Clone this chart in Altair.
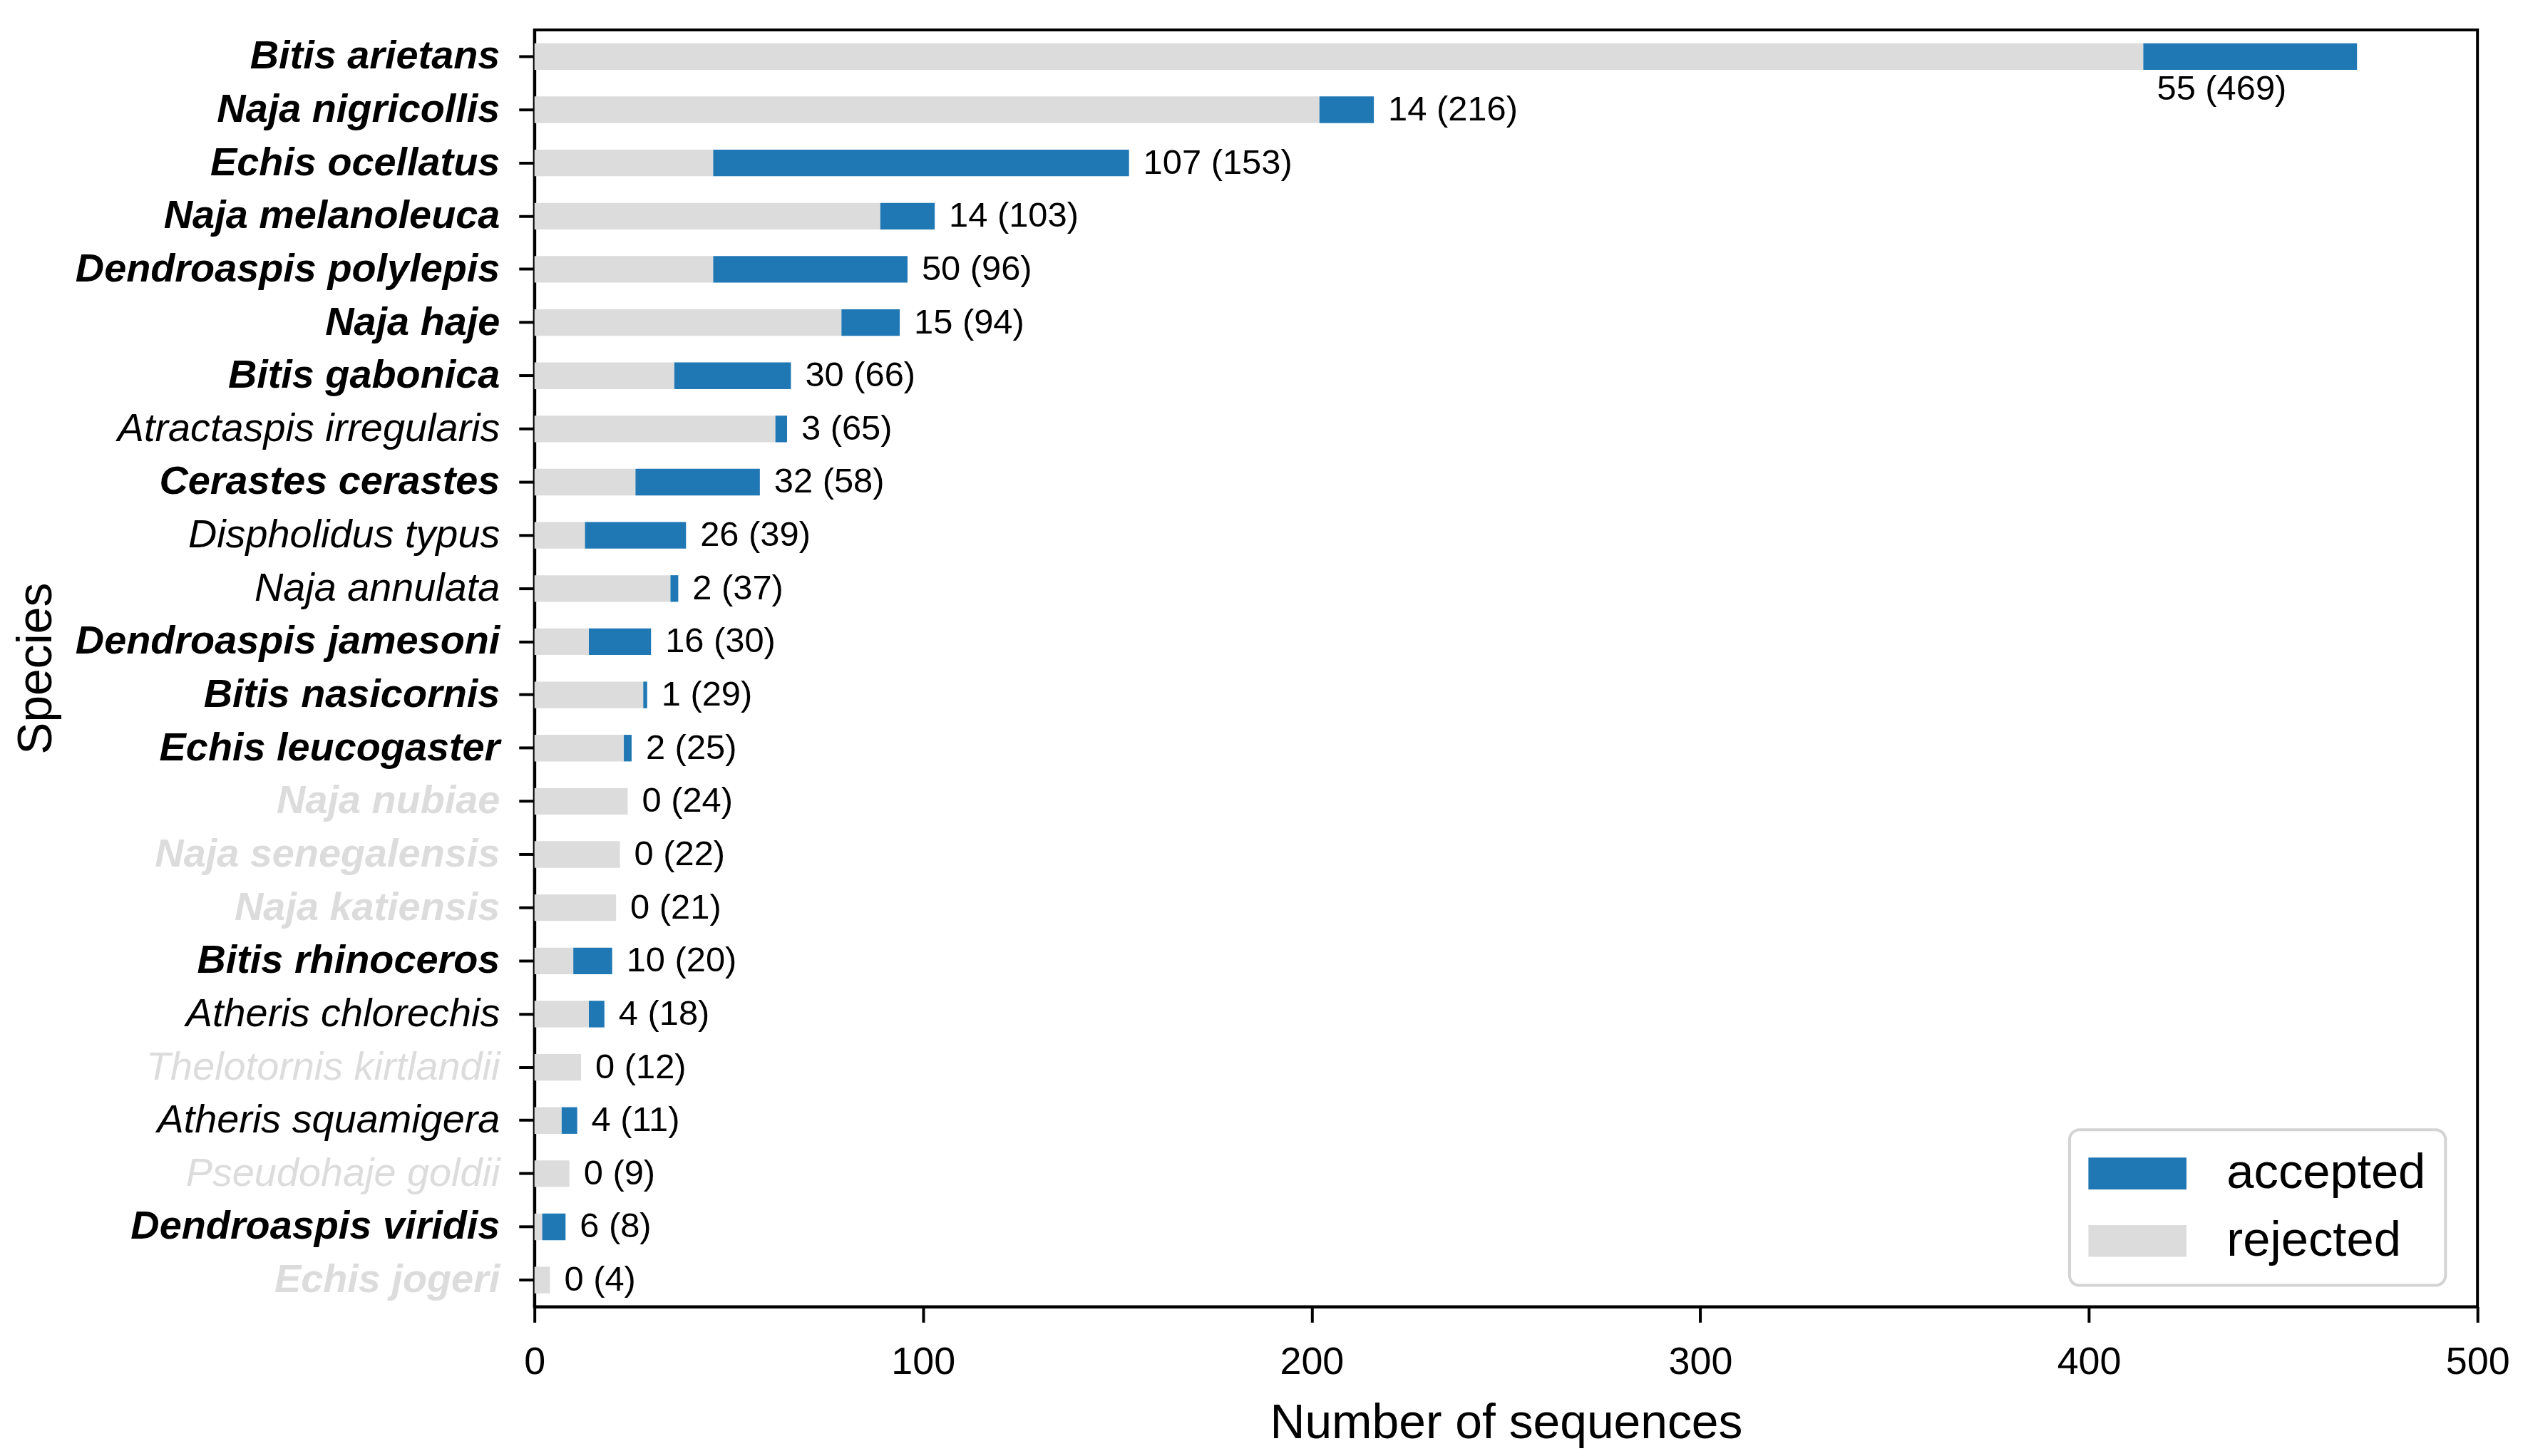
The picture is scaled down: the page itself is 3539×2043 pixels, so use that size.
import json
import altair as alt
import pandas as pd

species = [
    "Bitis arietans", "Naja nigricollis", "Echis ocellatus", "Naja melanoleuca",
    "Dendroaspis polylepis", "Naja haje", "Bitis gabonica", "Atractaspis irregularis",
    "Cerastes cerastes", "Dispholidus typus", "Naja annulata", "Dendroaspis jamesoni",
    "Bitis nasicornis", "Echis leucogaster", "Naja nubiae", "Naja senegalensis",
    "Naja katiensis", "Bitis rhinoceros", "Atheris chlorechis", "Thelotornis kirtlandii",
    "Atheris squamigera", "Pseudohaje goldii", "Dendroaspis viridis", "Echis jogeri",
]
accepted = [55, 14, 107, 14, 50, 15, 30, 3, 32, 26, 2, 16, 1, 2, 0, 0, 0, 10, 4, 0, 4, 0, 6, 0]
total = [469, 216, 153, 103, 96, 94, 66, 65, 58, 39, 37, 30, 29, 25, 24, 22, 21, 20, 18, 12, 11, 9, 8, 4]

bold_species = [
    "Bitis arietans", "Naja nigricollis", "Echis ocellatus", "Naja melanoleuca",
    "Dendroaspis polylepis", "Naja haje", "Bitis gabonica", "Cerastes cerastes",
    "Dendroaspis jamesoni", "Bitis nasicornis", "Echis leucogaster", "Naja nubiae",
    "Naja senegalensis", "Naja katiensis", "Bitis rhinoceros", "Dendroaspis viridis",
    "Echis jogeri",
]
grey_species = [
    "Naja nubiae", "Naja senegalensis", "Naja katiensis", "Thelotornis kirtlandii",
    "Pseudohaje goldii", "Echis jogeri",
]

BLUE = "#1f77b4"
GREY = "#dcdcdc"
FONT = "Liberation Sans"
W, H = 2734, 1797

rows = []
for s, a, t in zip(species, accepted, total):
    rows.append({"species": s, "status": "rejected", "start": 0, "end": t - a})
    rows.append({"species": s, "status": "accepted", "start": t - a, "end": t})
bars_df = pd.DataFrame(rows)

lab_df = pd.DataFrame({"species": species, "accepted": accepted, "total": total})
lab_df["label"] = [f"{a} ({t})" for a, t in zip(accepted, total)]
lab_df["mid"] = lab_df["total"] - lab_df["accepted"] / 2

bold_test = f"indexof({json.dumps(bold_species)}, datum.value) >= 0"
grey_test = f"indexof({json.dumps(grey_species)}, datum.value) >= 0"

y_enc = alt.Y(
    "species:N",
    sort=species,
    scale=alt.Scale(paddingInner=0.5, paddingOuter=0.25),
    axis=alt.Axis(
        title="Species",
        titleFontSize=68,
        titleFontWeight="normal",
        titleFont=FONT,
        titleColor="black",
        titleX=-700,
        titleY=H / 2,
        titleAngle=270,
        titleBaseline="middle",
        titleAlign="center",
        labelFont=FONT,
        labelFontSize=56,
        labelFontStyle="italic",
        labelFontWeight={"condition": {"test": bold_test, "value": "bold"}, "value": "normal"},
        labelColor={"condition": {"test": grey_test, "value": GREY}, "value": "black"},
        labelPadding=27,
        tickSize=22,
        tickWidth=4,
        tickColor="black",
        domainColor="black",
        domainWidth=4,
        labelLimit=1000,
    ),
)

x_scale = alt.Scale(domain=[0, 500], nice=False, zero=True)
x_axis = alt.Axis(
    title="Number of sequences",
    titleFontSize=68,
    titleFontWeight="normal",
    titleFont=FONT,
    titleColor="black",
    titlePadding=26,
    labelFont=FONT,
    labelFontSize=54,
    labelColor="black",
    labelPadding=29,
    values=[0, 100, 200, 300, 400, 500],
    tickSize=22,
    tickWidth=4,
    tickColor="black",
    domainColor="black",
    domainWidth=4,
    grid=False,
    labelFlush=False,
)

bars = alt.Chart(bars_df).mark_bar().encode(
    y=y_enc,
    x=alt.X("start:Q", scale=x_scale, axis=x_axis),
    x2="end:Q",
    color=alt.Color(
        "status:N",
        scale=alt.Scale(domain=["accepted", "rejected"], range=[BLUE, GREY]),
        legend=alt.Legend(
            title=None,
            orient="none",
            legendX=2160,
            legendY=1548,
            symbolType="M-2,-0.65H2V0.65H-2Z",
            symbolSize=69 * 69,
            symbolStrokeWidth=0,
            symbolOpacity=1,
            symbolOffset=34,
            labelFont=FONT,
            labelFontSize=69,
            labelColor="black",
            labelOffset=91,
            labelLimit=600,
            rowPadding=25,
            padding=27,
            strokeColor="#d3d3d3",
            fillColor="white",
            cornerRadius=14,
        ),
    ),
)

labels_right = alt.Chart(lab_df).transform_filter("datum.total < 400").mark_text(
    align="left", baseline="middle", dx=20, font=FONT, fontSize=49, color="black"
).encode(
    y=alt.Y("species:N", sort=species),
    x=alt.X("total:Q", scale=x_scale),
    text="label:N",
)

labels_below = alt.Chart(lab_df).transform_filter("datum.total >= 400").mark_text(
    align="center", baseline="middle", dx=-40, dy=46, font=FONT, fontSize=49, color="black"
).encode(
    y=alt.Y("species:N", sort=species),
    x=alt.X("mid:Q", scale=x_scale),
    text="label:N",
)

chart = (
    alt.layer(bars, labels_right, labels_below)
    .properties(width=W, height=H, padding={"left": 10, "top": 31, "right": 10, "bottom": 5})
    .configure_view(stroke="black", strokeWidth=4)
    .configure_legend(strokeWidth=4)
)

chart.save("out.html", embed_options={"renderer": "svg", "actions": False})
